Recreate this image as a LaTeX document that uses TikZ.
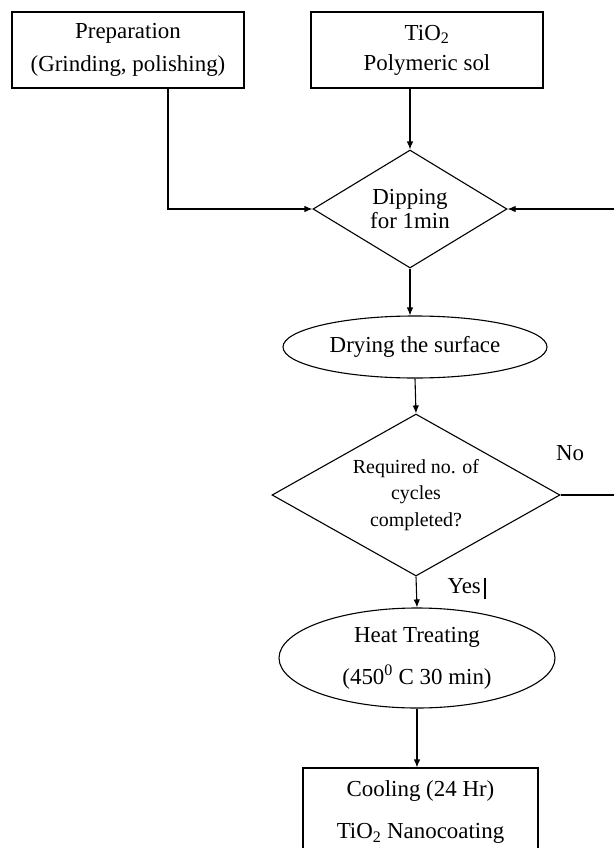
\documentclass[tikz,border=0pt]{standalone}
\usepackage{fontspec}
\setmainfont{Liberation Serif}
\usetikzlibrary{shapes.geometric,arrows.meta,calc}
\begin{document}
\begin{tikzpicture}[x=1bp,y=-1bp,
  line width=1.1bp,
  box/.style={draw, rectangle, inner sep=0, align=center},
  dia/.style={draw, diamond, inner sep=0, align=center},
  ell/.style={draw, ellipse, inner sep=0, align=center},
  arr/.style={-{Latex[length=8bp,width=6.5bp]}},
  lbl/.style={inner sep=0, font=\fontsize{23}{26}\selectfont},
]
\useasboundingbox (0,0) rectangle (614,848);
\clip (0,0) rectangle (614,848);

\node[box, minimum width=232bp, minimum height=76bp, font=\fontsize{23}{33}\selectfont] (prep) at (128,50) {Preparation\\(Grinding, polishing)};
\node[box, minimum width=232bp, minimum height=76bp, font=\fontsize{23}{30}\selectfont] (tio) at (427,50) {TiO\textsubscript{2}\\Polymeric sol};
\node[dia, minimum width=194bp, minimum height=118bp, aspect=1.64, font=\fontsize{23}{25}\selectfont] (dip) at (410,209) {Dipping\\for 1min};
\node[ell, minimum width=264bp, minimum height=62bp, font=\fontsize{23}{26}\selectfont] (dry) at (415,347) {Drying the surface};
\node[dia, minimum width=288bp, minimum height=162bp, aspect=1.78, font=\fontsize{20}{27}\selectfont] (req) at (416,495) {Required no. of\\cycles\\completed?};
\node[ell, minimum width=276bp, minimum height=100bp, font=\fontsize{23}{42}\selectfont] (heat) at (417,658) {Heat Treating\\(450\textsuperscript{0} C 30 min)};
\node[box, minimum width=235bp, minimum height=88bp, font=\fontsize{23}{43}\selectfont] (cool) at (420.5,812) {Cooling (24 Hr)\\TiO\textsubscript{2} Nanocoating};

\node[lbl] (no) at (570,453) {No};
\node[lbl, anchor=west] (yes) at (447,588) {Yes\hspace{3bp}\rule[-5bp]{2.5bp}{21bp}};

\draw[arr] ([xshift=40bp]prep.south) |- (dip.west);
\draw[arr] (tio.south -| dip.north) -- (dip.north);
\draw[arr] (req.east) -- (640,495) |- (dip.east);
\draw[arr] (dip.south) -- (dip.south |- dry.north);
\draw[arr] (dry.south) -- (req.north);
\draw[arr] (req.south) -- (heat.north);
\draw[arr] (heat.south) -- (heat.south |- cool.north);
\end{tikzpicture}
\end{document}
